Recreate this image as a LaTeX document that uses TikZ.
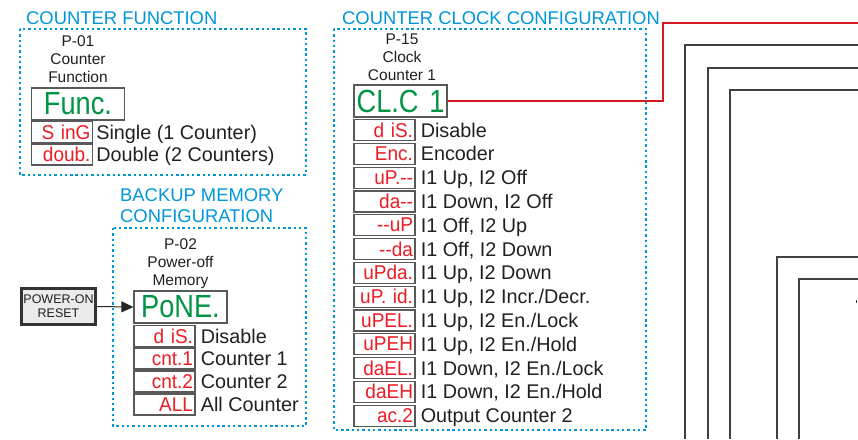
\documentclass[tikz,border=0pt]{standalone}
\usepackage{fontspec}
\setmainfont{Liberation Sans}
\newfontfamily\segfont[FakeStretch=0.85]{Liberation Sans}
\newfontfamily\segfontr[FakeStretch=0.95]{Liberation Sans}
\usetikzlibrary{arrows.meta}
\definecolor{tblue}{RGB}{0,150,218}
\definecolor{sred}{RGB}{237,28,36}
\definecolor{sgreen}{RGB}{0,148,68}
\definecolor{ink}{RGB}{35,31,32}
\newcommand{\segrow}[6][5pt]{%
  \node[disp] (#2) at (#3,#4) {\mbox{#5}};
  \node[lab] (#2l) at ([xshift=#1,yshift=-7pt]#2.east) {#6};}
\begin{document}
\begin{tikzpicture}[x=1pt,y=-1pt,
  title/.style={text=tblue,font=\fontsize{18.4}{21}\selectfont,inner sep=0,align=left},
  group/.style={draw=tblue,line width=2.4pt,dash pattern=on 2.4pt off 2.9pt},
  head/.style={text=ink,font=\fontsize{15.5}{18}\selectfont,align=center,inner sep=0,anchor=north},
  disp/.style={draw=black!65,line width=1.2pt,fill=white,inner xsep=2pt,inner ysep=0pt,
    text width=57pt,align=right,minimum height=21pt,text=sred,
    font=\segfontr\fontsize{20}{20}\selectfont},
  gdisp/.style={disp,text width=89pt,align=center,minimum height=32pt,text=sgreen,
    font=\segfont\fontsize{32}{32}\selectfont},
  lab/.style={text=ink,font=\fontsize{19.8}{20}\selectfont,inner sep=0,anchor=base west},
  reset/.style={draw=black!80,line width=2.8pt,fill=black!8,minimum width=74pt,minimum height=36pt,
    inner sep=0,align=center,text=ink,font=\fontsize{12.5}{14}\selectfont},
  wire/.style={draw=black!75,line width=1.3pt},
  redwire/.style={draw=sred!90!black,line width=1.2pt},
  arrowline/.style={draw=black!85,line width=1pt,-{Triangle[length=12pt,width=11pt]}}
]
\useasboundingbox (0,0) rectangle (858,439);

% group frames
\draw[group] (20,29) rectangle (306,175);
\draw[group] (113,228) rectangle (306,426);
\draw[group] (334,29) rectangle (646,430);

% titles
\node[title,anchor=base west] (t1) at (26,24) {COUNTER FUNCTION};
\node[title,anchor=north west] (t2) at (120,188) {BACKUP MEMORY\\CONFIGURATION};
\node[title,anchor=base west] (t3) at (342,24) {COUNTER CLOCK CONFIGURATION};

% parameter headers
\node[head] (h1) at (78,35.3) {P-01\\Counter\\Function};
\node[head] (h2) at (180.5,238) {P-02\\Power-off\\Memory};
\node[head] (h3) at (402,33.5) {P-15\\Clock\\Counter 1};

% green displays
\node[gdisp] (func) at (78,104) {\mbox{Func.}};
\node[gdisp] (pone) at (180.5,307) {\mbox{PoNE.}};
\node[gdisp] (clc) at (400.5,101) {\mbox{CL.C 1}};

% panel 1
\segrow[3pt]{sing}{62}{132}{S inG}{Single (1 Counter)}
\segrow[3pt]{doub}{62}{154.5}{doub.}{Double (2 Counters)}

% panel 2
\segrow{mdis}{164.5}{336}{d iS.}{Disable}
\segrow{cnta}{164.5}{358.5}{cnt.1}{Counter 1}
\segrow{cntb}{164.5}{381.5}{cnt.2}{Counter 2}
\segrow{mall}{164.5}{404.5}{ALL}{All Counter}

% panel 3
\segrow{cdis}{384.5}{130}{d iS.}{Disable}
\segrow{cenc}{384.5}{153.8}{Enc.}{Encoder}
\segrow{cupo}{384.5}{177.6}{uP.--}{I1 Up, I2 Off}
\segrow{cdno}{384.5}{201.4}{da--}{I1 Down, I2 Off}
\segrow{coup}{384.5}{225.2}{--uP}{I1 Off, I2 Up}
\segrow{codn}{384.5}{249}{--da}{I1 Off, I2 Down}
\segrow{cupd}{384.5}{272.8}{uPda.}{I1 Up, I2 Down}
\segrow{cupi}{384.5}{296.6}{uP. id.}{I1 Up, I2 Incr./Decr.}
\segrow{cuel}{384.5}{320.4}{uPEL.}{I1 Up, I2 En./Lock}
\segrow{cueh}{384.5}{344.2}{uPEH}{I1 Up, I2 En./Hold}
\segrow{cdel}{384.5}{368}{daEL.}{I1 Down, I2 En./Lock}
\segrow{cdeh}{384.5}{391.8}{daEH}{I1 Down, I2 En./Hold}
\segrow{coc2}{384.5}{415.6}{ac.2}{Output Counter 2}

% power-on reset
\node[reset] (por) at (58.5,306.5) {POWER-ON\\RESET};
\draw[arrowline] (por.east) -- (pone.west);

% red connector from CLC 1
\coordinate (rbend) at (663,23);
\coordinate (rend) at (858,23);
\draw[redwire] (clc.east) -| (rbend) -- (rend);

% other wires leaving the picture
\draw[wire] (685,439) |- (858,45);
\draw[wire] (708,439) |- (858,68);
\draw[wire] (730,439) |- (858,90);
\draw[wire] (777,439) |- (858,257);
\draw[wire] (799,439) |- (858,279);
\draw[wire,line width=0.8pt] (856.8,299.5) -- (856.8,302.5);
\end{tikzpicture}
\end{document}
